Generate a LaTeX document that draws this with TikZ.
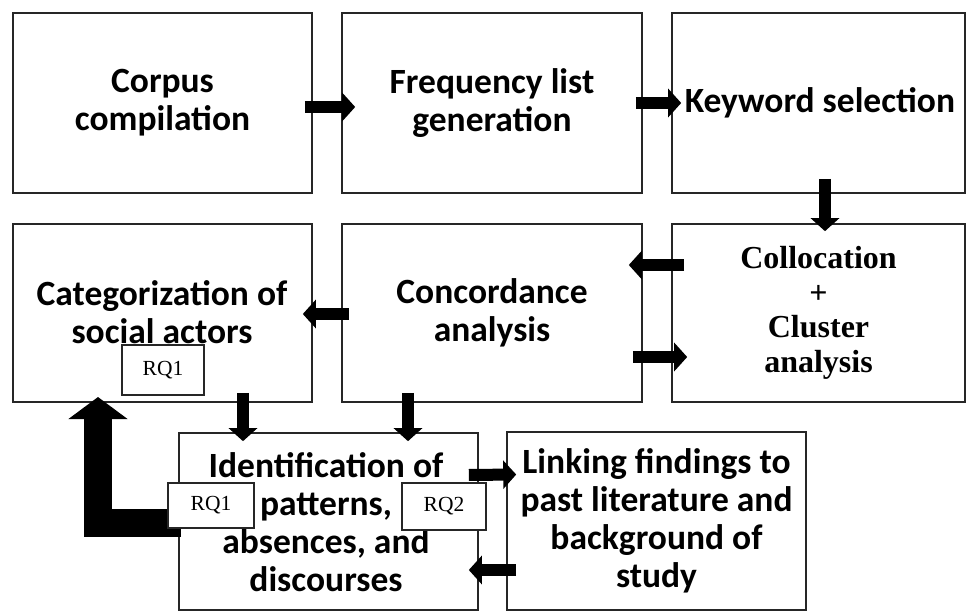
\documentclass[tikz,border=0pt]{standalone}
\usepackage{fontspec}
\setmainfont{Carlito}
\newfontfamily\tnr{Liberation Serif}
\usetikzlibrary{arrows.meta,calc}
\begin{document}
\begin{tikzpicture}[x=1pt,y=-1pt,
  txt/.style={align=center, inner sep=0pt, font=\fontsize{35.5}{38}\selectfont\bfseries},
  box/.style={txt, draw=black!85, line width=1.6pt, minimum width=299pt, minimum height=180pt},
  rq/.style={draw=black!85, fill=white, line width=1.2pt, inner sep=0pt, font=\tnr\fontsize{21.5}{23}\selectfont},
  blk/.style={line width=12pt, -{Triangle[length=13pt,width=28pt]}},
  big/.style={line width=28pt, line join=miter, -{Triangle[length=22pt,width=58pt]}}]
\useasboundingbox (0,0) rectangle (966,612);
% row 1
\node[box] (corpus) at (162.5,103) {Corpus\\compilation};
\node[box, minimum width=300pt] (freq) at (492,103) {Frequency list\\generation};
\node[box, minimum width=293pt] (kw) at (818.5,103) {};
\node[txt] (kwt) at (820,103) {Keyword selection};
% row 2
\node[box, minimum height=178pt] (cat) at (162.5,313) {};
\node[txt] (catt) at (162,312) {Categorization of\\social actors};
\node[box, minimum width=300pt, minimum height=178pt] (conc) at (492,313) {Concordance\\analysis};
\node[box, minimum width=293pt, minimum height=178pt, font=\tnr\fontsize{32}{34.5}\selectfont\bfseries] (coll) at (818.5,313) {Collocation\\+\\Cluster\\analysis};
% row 3
\node[box, minimum height=177pt] (ident) at (328.5,521.5) {};
\node[txt] (identt) at (326,522) {Identification of\\patterns,\\absences, and\\discourses};
\node[box, minimum height=178pt] (link) at (656.5,521) {Linking findings to\\past literature and\\background of\\study};
% connectors
\draw[blk] ($(corpus.east)+(-8,4)$) -- ($(freq.west)+(14,4)$);
\draw[blk] ($(freq.east)+(-7,0)$) -- ($(kw.west)+(10,0)$);
\draw[blk] ($(kw.south)+(6.5,-15)$) -- ($(coll.north)+(6.5,8)$);
\draw[blk] ($(coll.west)+(13,-48)$) -- ($(conc.east)+(-14,-48)$);
\draw[blk] ($(conc.east)+(-10,44)$) -- ($(coll.west)+(16,44)$);
\draw[blk] ($(conc.west)+(8,1)$) -- ($(cat.east)+(-10,1)$);
\draw[blk] ($(cat.south)+(80.5,-10)$) -- ($(ident.north)+(-85.5,9)$);
\draw[blk] ($(conc.south)+(-84,-10)$) -- ($(ident.north)+(79.5,9)$);
\draw[blk] ($(ident.east)+(-10,-46.5)$) -- ($(link.west)+(10,-46.5)$);
\draw[blk] ($(link.west)+(10,49)$) -- ($(ident.east)+(-10,48.5)$);
\coordinate (ltip) at (98,397);
\draw[big] ($(ident.west)+(3,1)$) -| (ltip);
% RQ labels
\node[rq, minimum width=82pt, minimum height=50pt] (rqa) at (163,370) {RQ1};
\node[rq, minimum width=86pt, minimum height=45pt] (rqb) at (211,505.5) {RQ1};
\node[rq, minimum width=84pt, minimum height=47pt] (rqc) at (444,506.5) {RQ2};
\end{tikzpicture}
\end{document}
